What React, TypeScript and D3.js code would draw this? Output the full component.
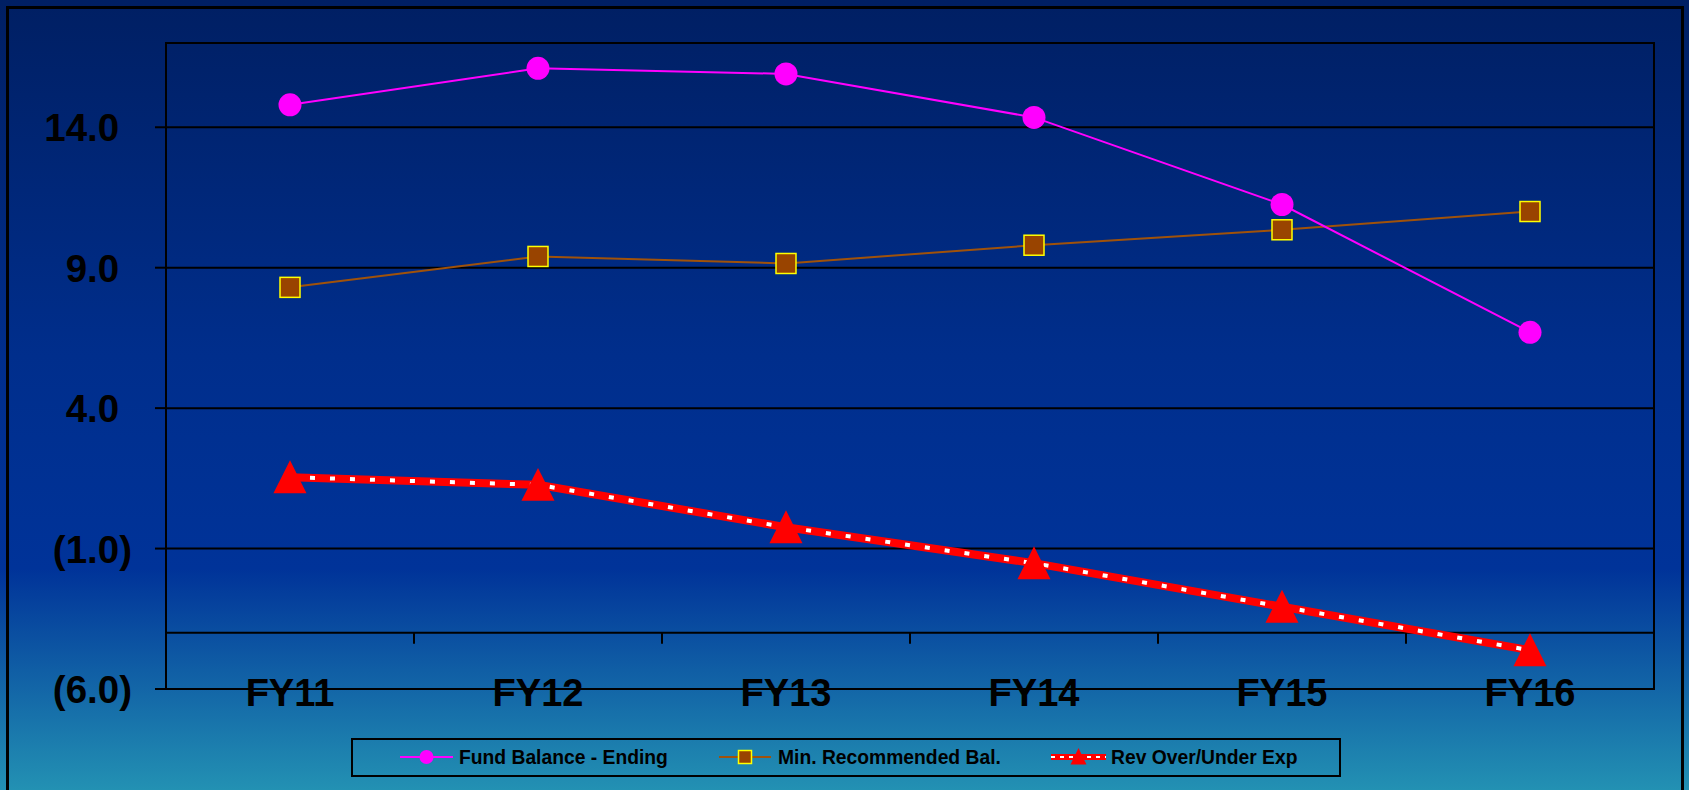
import React, { useEffect, useRef } from 'react';
import * as d3 from 'd3';

const years = ['FY11', 'FY12', 'FY13', 'FY14', 'FY15', 'FY16'];
const fundBalance = [14.8, 16.1, 15.9, 14.35, 11.25, 6.7];
const minRecommended = [8.3, 9.4, 9.15, 9.8, 10.35, 11.0];
const revOverUnder = [1.54, 1.27, -0.24, -1.52, -3.07, -4.62];
const yTicks = [-6, -1, 4, 9, 14];
const legendLabels = ['Fund Balance - Ending', 'Min. Recommended Bal.', 'Rev Over/Under Exp'];

const W = 1689;
const H = 790;
const FONT = '"Liberation Sans", Arial, sans-serif';

const App = () => {
    const ref = useRef(null);

    useEffect(() => {
        const svg = d3.select(ref.current);
        svg.selectAll('*').remove();

        const plot = { left: 166, right: 1654, top: 43, bottom: 689 };

        const x = d3.scaleBand().domain(years).range([plot.left, plot.right]);
        const cx = d => x(d) + x.bandwidth() / 2;
        const y = d3.scaleLinear().domain([-6, 17]).range([plot.bottom, plot.top]);

        // background gradient
        const defs = svg.append('defs');
        const grad = defs.append('linearGradient')
            .attr('id', 'bg').attr('x1', 0).attr('y1', 0).attr('x2', 0).attr('y2', 1);
        grad.append('stop').attr('offset', '0').attr('stop-color', '#001f63');
        grad.append('stop').attr('offset', '0.45').attr('stop-color', '#002e8c');
        grad.append('stop').attr('offset', '0.72').attr('stop-color', '#003399');
        grad.append('stop').attr('offset', '1').attr('stop-color', '#2391b3');

        svg.append('rect').attr('width', W).attr('height', H).attr('fill', 'url(#bg)');

        // outer frame
        svg.append('rect')
            .attr('x', 7.5).attr('y', 7.5).attr('width', 1675).attr('height', 820)
            .attr('fill', 'none').attr('stroke', '#000').attr('stroke-width', 3);

        // gridlines
        svg.append('g').selectAll('line')
            .data(yTicks.filter(t => t > -6))
            .join('line')
            .attr('x1', plot.left).attr('x2', plot.right)
            .attr('y1', d => y(d)).attr('y2', d => y(d))
            .attr('stroke', '#000').attr('stroke-width', 2);

        // plot border
        svg.append('rect')
            .attr('x', plot.left).attr('y', plot.top)
            .attr('width', plot.right - plot.left).attr('height', plot.bottom - plot.top)
            .attr('fill', 'none').attr('stroke', '#000').attr('stroke-width', 2);

        // y tick marks and labels
        const yAxis = svg.append('g');
        yAxis.selectAll('line')
            .data(yTicks)
            .join('line')
            .attr('x1', 155).attr('x2', plot.left)
            .attr('y1', d => y(d)).attr('y2', d => y(d))
            .attr('stroke', '#000').attr('stroke-width', 2);
        const yLab = yAxis.selectAll('text')
            .data(yTicks)
            .join('text')
            .attr('x', 132).attr('y', d => y(d) + 14)
            .attr('text-anchor', 'end')
            .attr('font-family', FONT).attr('font-weight', 'bold').attr('font-size', 38.5)
            .attr('fill', '#000');
        yLab.text(d => d < 0 ? `(${d3.format('.1f')(-d)})` : d3.format('.1f')(d));
        yLab.filter(d => d >= 0).append('tspan').attr('fill-opacity', 0).text(')');

        // category axis at -4
        const axY = y(-4);
        svg.append('line')
            .attr('x1', plot.left).attr('x2', plot.right)
            .attr('y1', axY).attr('y2', axY)
            .attr('stroke', '#000').attr('stroke-width', 2);
        svg.append('g').selectAll('line')
            .data(years.slice(1))
            .join('line')
            .attr('x1', d => x(d)).attr('x2', d => x(d))
            .attr('y1', axY).attr('y2', axY + 11)
            .attr('stroke', '#000').attr('stroke-width', 2);

        svg.append('g').selectAll('text')
            .data(years)
            .join('text')
            .attr('x', d => cx(d)).attr('y', 706)
            .attr('text-anchor', 'middle')
            .attr('font-family', FONT).attr('font-weight', 'bold').attr('font-size', 38)
            .attr('fill', '#000')
            .text(d => d);

        const line = d3.line()
            .x((d, i) => cx(years[i]))
            .y(d => y(d));

        // Min recommended
        svg.append('path').datum(minRecommended)
            .attr('fill', 'none').attr('stroke', '#a0520a').attr('stroke-width', 2)
            .attr('d', line);
        svg.append('g').selectAll('rect')
            .data(minRecommended)
            .join('rect')
            .attr('x', (d, i) => cx(years[i]) - 10).attr('y', d => y(d) - 10)
            .attr('width', 20).attr('height', 20)
            .attr('fill', '#994400').attr('stroke', '#ffff00').attr('stroke-width', 1.5);

        // Fund balance
        svg.append('path').datum(fundBalance)
            .attr('fill', 'none').attr('stroke', '#ff00ff').attr('stroke-width', 2)
            .attr('d', line);
        svg.append('g').selectAll('circle')
            .data(fundBalance)
            .join('circle')
            .attr('cx', (d, i) => cx(years[i])).attr('cy', d => y(d))
            .attr('r', 11.5).attr('fill', '#ff00ff');

        // Rev over/under
        svg.append('path').datum(revOverUnder)
            .attr('fill', 'none').attr('stroke', '#ff0000').attr('stroke-width', 8)
            .attr('d', line);
        svg.append('path').datum(revOverUnder)
            .attr('fill', 'none').attr('stroke', '#ffffff').attr('stroke-width', 4)
            .attr('stroke-dasharray', '5 15')
            .attr('d', line);
        const tri = d3.symbol().type(d3.symbolTriangle).size(260);
        svg.append('g').selectAll('path')
            .data(revOverUnder)
            .join('path')
            .attr('transform', (d, i) => `translate(${cx(years[i])},${y(d) + 5}) scale(1.35,1.55)`)
            .attr('d', tri())
            .attr('fill', '#ff0000');

        // legend
        const lg = svg.append('g');
        lg.append('rect')
            .attr('x', 352).attr('y', 739).attr('width', 988).attr('height', 37)
            .attr('fill', 'none').attr('stroke', '#000').attr('stroke-width', 2);
        const ly = 757;
        const items = [
            { x1: 400, x2: 453, tx: 459 },
            { x1: 719, x2: 771, tx: 778 },
            { x1: 1051, x2: 1106, tx: 1111 },
        ];
        // fund balance key
        lg.append('line').attr('x1', items[0].x1).attr('x2', items[0].x2).attr('y1', ly).attr('y2', ly)
            .attr('stroke', '#ff00ff').attr('stroke-width', 2);
        lg.append('circle').attr('cx', (items[0].x1 + items[0].x2) / 2).attr('cy', ly).attr('r', 7)
            .attr('fill', '#ff00ff');
        // min recommended key
        lg.append('line').attr('x1', items[1].x1).attr('x2', items[1].x2).attr('y1', ly).attr('y2', ly)
            .attr('stroke', '#a0520a').attr('stroke-width', 2);
        lg.append('rect').attr('x', (items[1].x1 + items[1].x2) / 2 - 6.5).attr('y', ly - 6.5)
            .attr('width', 13).attr('height', 13)
            .attr('fill', '#994400').attr('stroke', '#ffff00').attr('stroke-width', 1.5);
        // rev key
        lg.append('line').attr('x1', items[2].x1).attr('x2', items[2].x2).attr('y1', ly).attr('y2', ly)
            .attr('stroke', '#ff0000').attr('stroke-width', 6);
        lg.append('line').attr('x1', items[2].x1).attr('x2', items[2].x2).attr('y1', ly).attr('y2', ly)
            .attr('stroke', '#ffffff').attr('stroke-width', 2).attr('stroke-dasharray', '4 5');
        lg.append('path')
            .attr('transform', `translate(${(items[2].x1 + items[2].x2) / 2},${ly + 2}) scale(1,1.2)`)
            .attr('d', d3.symbol().type(d3.symbolTriangle).size(110)())
            .attr('fill', '#ff0000');

        lg.selectAll('text.lab')
            .data(legendLabels)
            .join('text')
            .attr('class', 'lab')
            .attr('x', (d, i) => items[i].tx).attr('y', ly + 7)
            .attr('font-family', FONT).attr('font-weight', 'bold').attr('font-size', 19.3)
            .attr('fill', '#000')
            .text(d => d);
    }, []);

    return (
        <svg
            ref={ref}
            width={W}
            height={H}
            style={{ position: 'absolute', left: 0, top: 0, display: 'block' }}
        />
    );
};

export default App;
